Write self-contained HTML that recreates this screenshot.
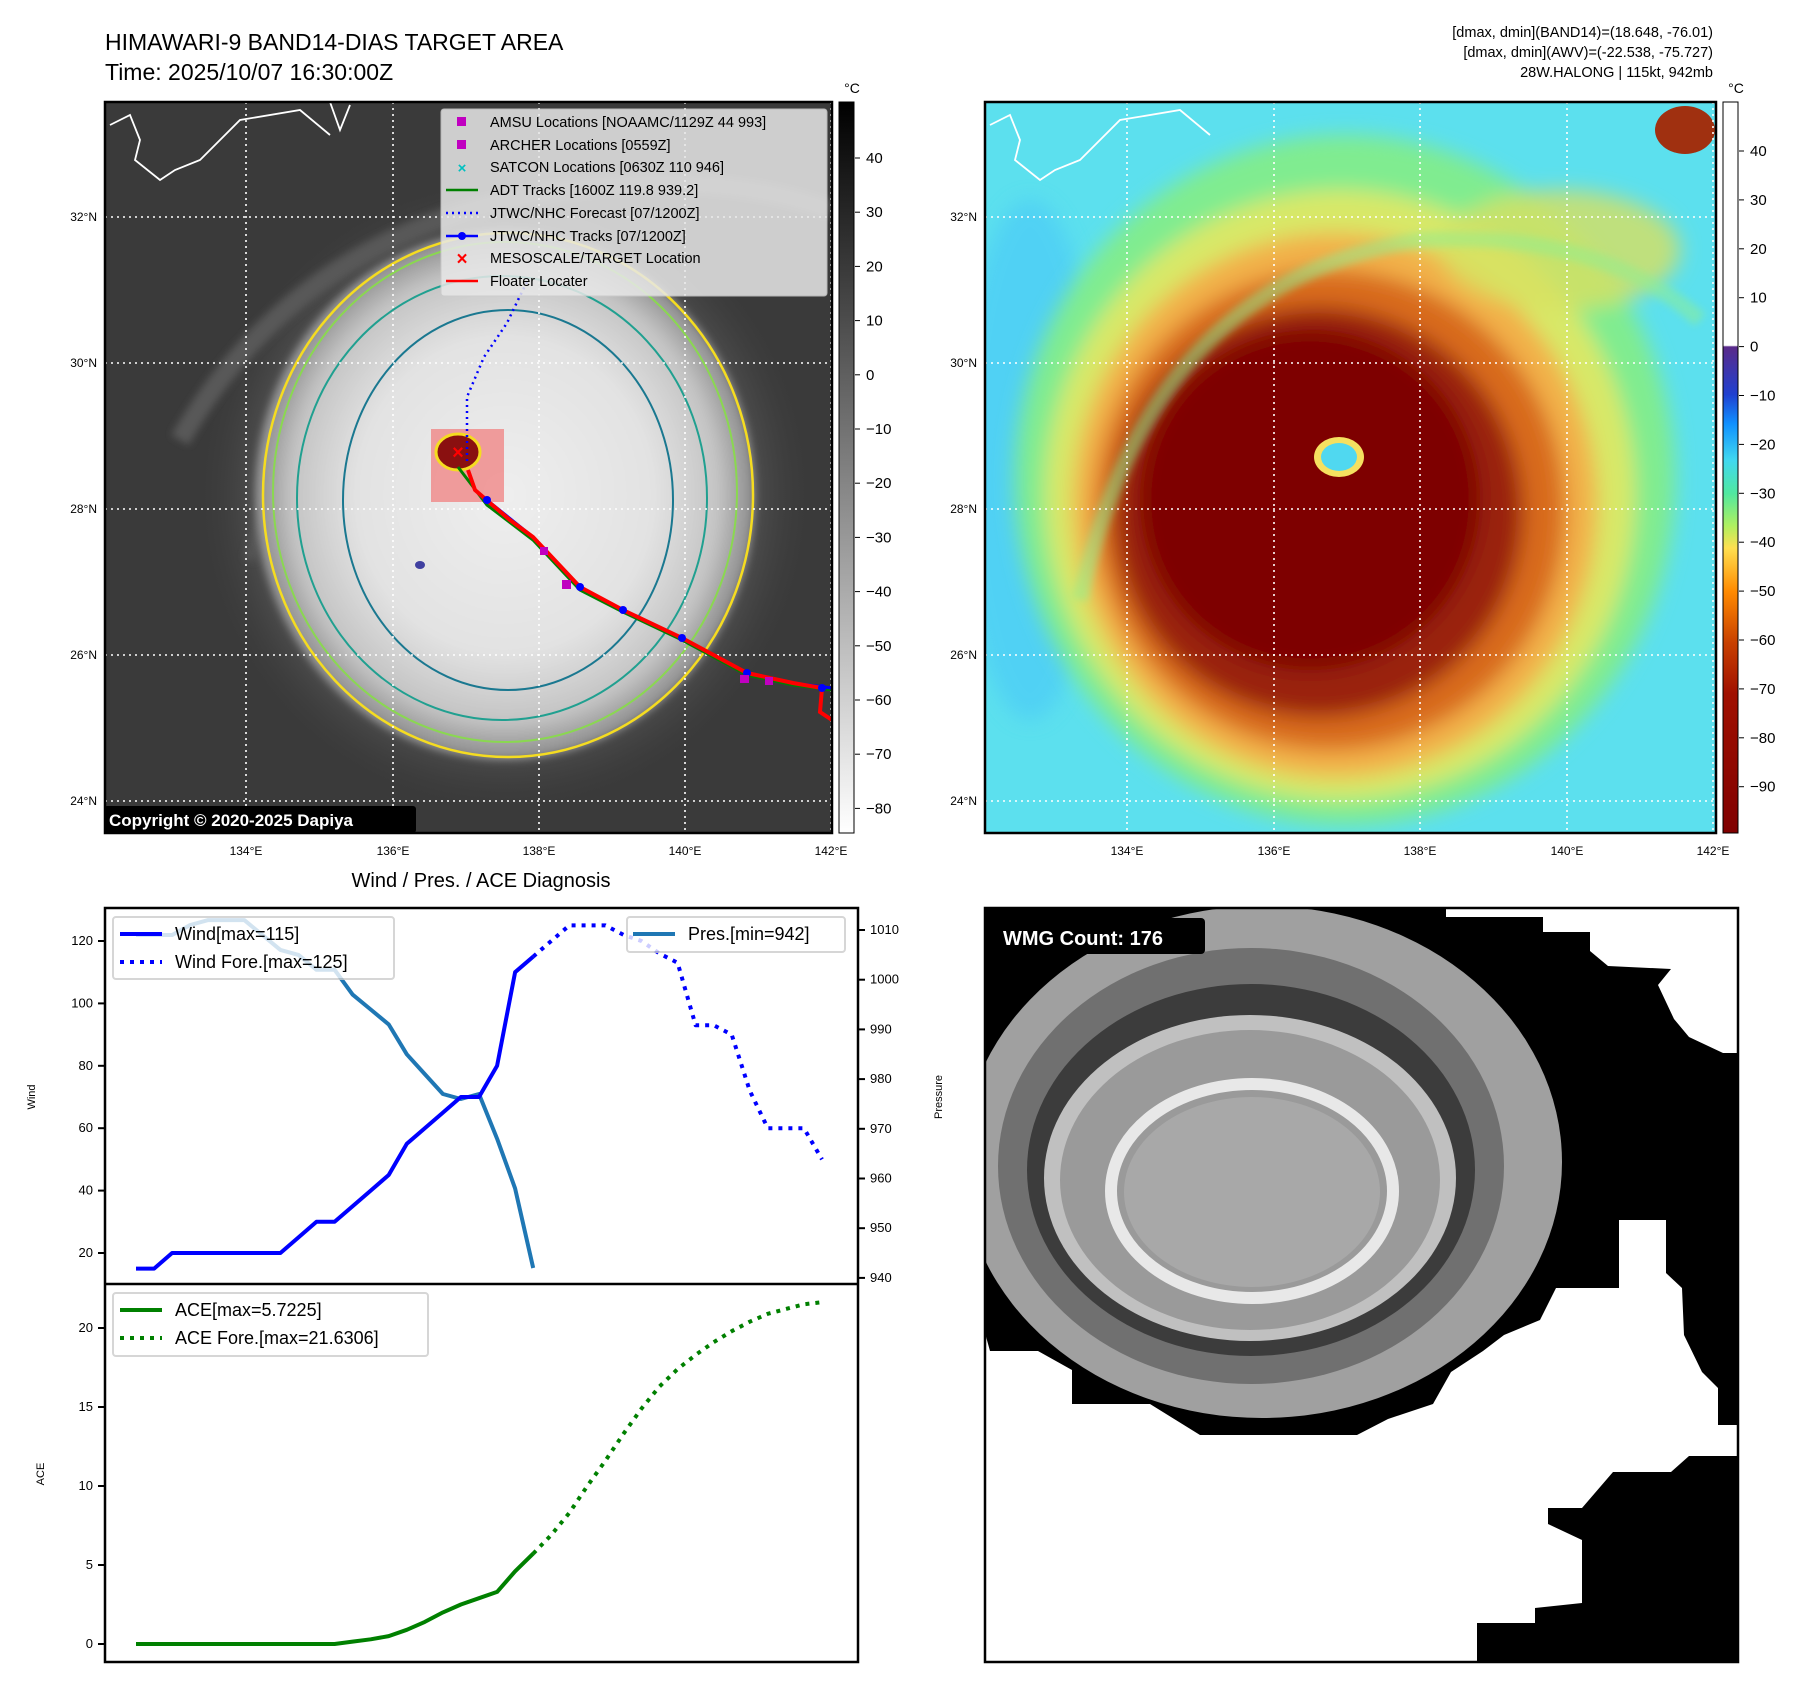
<!DOCTYPE html>
<html><head><meta charset="utf-8"><style>
body{margin:0;background:#fff;}
svg{display:block;font-family:"Liberation Sans","DejaVu Sans",sans-serif;}
</style></head><body>
<svg id="root" width="1797" height="1690" viewBox="0 0 1797 1690" xmlns="http://www.w3.org/2000/svg">
<defs>
<radialGradient id="cloud1" cx="0.5" cy="0.5" r="0.5">
<stop offset="0" stop-color="#eeeeee"/><stop offset="0.6" stop-color="#e2e2e2"/><stop offset="0.85" stop-color="#c4c4c4"/><stop offset="1" stop-color="#8a8a8a"/></radialGradient>
<radialGradient id="halo1" cx="0.5" cy="0.5" r="0.5">
<stop offset="0" stop-color="#8a8a8a"/><stop offset="0.75" stop-color="#5a5a5a"/><stop offset="1" stop-color="#3a3a3a" stop-opacity="0"/></radialGradient>
<filter id="blur6" x="-20%" y="-20%" width="140%" height="140%"><feGaussianBlur stdDeviation="10"/></filter>
<filter id="blur3"><feGaussianBlur stdDeviation="4"/></filter>
<linearGradient id="cb1" x1="0" y1="0" x2="0" y2="1"><stop offset="0" stop-color="#000"/><stop offset="1" stop-color="#fff"/></linearGradient>
<linearGradient id="cb2" x1="0" y1="0" x2="0" y2="1">
<stop offset="0" stop-color="#ffffff"/><stop offset="0.333" stop-color="#ffffff"/><stop offset="0.335" stop-color="#5a2a8a"/><stop offset="0.40" stop-color="#2040d0"/><stop offset="0.44" stop-color="#1090ff"/><stop offset="0.49" stop-color="#40d8f0"/><stop offset="0.535" stop-color="#50e8a0"/><stop offset="0.58" stop-color="#b0f060"/><stop offset="0.61" stop-color="#ffe050"/><stop offset="0.67" stop-color="#ff8a00"/><stop offset="0.74" stop-color="#c84000"/><stop offset="0.81" stop-color="#a01000"/><stop offset="1" stop-color="#800000"/></linearGradient>
<clipPath id="clip1"><rect x="105" y="102" width="727" height="731"/></clipPath>
<clipPath id="clip2"><rect x="985" y="102" width="731" height="731"/></clipPath>
<clipPath id="clip3"><rect x="985" y="908" width="753" height="754"/></clipPath>
</defs>

<text x="105" y="50" font-size="23">HIMAWARI-9 BAND14-DIAS TARGET AREA</text>
<text x="105" y="80" font-size="23">Time: 2025/10/07 16:30:00Z</text>
<g font-size="14.5" text-anchor="end">
<text x="1713" y="37">[dmax, dmin](BAND14)=(18.648, -76.01)</text>
<text x="1713" y="57">[dmax, dmin](AWV)=(-22.538, -75.727)</text>
<text x="1713" y="77">28W.HALONG | 115kt, 942mb</text>
</g>

<!-- MAP 1 -->
<g clip-path="url(#clip1)">
<rect x="105" y="102" width="727" height="731" fill="#3a3a3a"/>
<ellipse cx="505" cy="495" rx="310" ry="320" fill="url(#halo1)"/>
<path d="M180,440 Q300,230 560,190 Q720,170 830,210" stroke="#585858" stroke-width="20" fill="none" filter="url(#blur3)"/>
<path d="M250,560 Q310,320 560,255" stroke="#555" stroke-width="12" fill="none" filter="url(#blur3)"/>
<ellipse cx="505" cy="495" rx="250" ry="265" fill="url(#cloud1)" filter="url(#blur3)"/>
<ellipse cx="508" cy="495" rx="245" ry="262" fill="none" stroke="#f5dc20" stroke-width="2.5"/>
<ellipse cx="505" cy="492" rx="232" ry="250" fill="none" stroke="#8ad850" stroke-width="2"/>
<ellipse cx="502" cy="498" rx="205" ry="222" fill="none" stroke="#20a090" stroke-width="2"/>
<ellipse cx="508" cy="500" rx="165" ry="190" fill="none" stroke="#1a7890" stroke-width="2"/>
<ellipse cx="420" cy="565" rx="5" ry="4" fill="#4040a0"/>
<path d="M110,125 L130,115 L140,140 L135,160 L160,180 L175,170 L200,160 L240,120 L300,110 L330,135" stroke="#fff" stroke-width="1.8" fill="none"/>
<path d="M330,102 L340,130 L350,105" stroke="#fff" stroke-width="1.8" fill="none"/>
<g stroke="#fff" stroke-width="1.6" stroke-dasharray="2,4">
<line x1="246" y1="102" x2="246" y2="833"/><line x1="393" y1="102" x2="393" y2="833"/><line x1="539" y1="102" x2="539" y2="833"/><line x1="685" y1="102" x2="685" y2="833"/><line x1="831" y1="102" x2="831" y2="833"/>
<line x1="105" y1="217" x2="832" y2="217"/><line x1="105" y1="363" x2="832" y2="363"/><line x1="105" y1="509" x2="832" y2="509"/><line x1="105" y1="655" x2="832" y2="655"/><line x1="105" y1="801" x2="832" y2="801"/>
</g>
<rect x="431" y="429" width="73" height="73" fill="#f08080" opacity="0.75"/>
<ellipse cx="458" cy="452" rx="22" ry="18" fill="#8a1010" stroke="#f5dc20" stroke-width="3"/>
<polyline points="467,461 467,397 484,357 507,323 518,300 528,280" fill="none" stroke="#0000ff" stroke-width="2.5" stroke-dasharray="2,4"/>
<polyline points="458,467 487,505 533,540 580,590 623,612 682,640 747,675 793,685 832,690" fill="none" stroke="#008000" stroke-width="3"/>
<polyline points="487,500 533,537 580,587 623,610 682,638 747,673 793,683 832,688" fill="none" stroke="#0000ff" stroke-width="3"/>
<polyline points="468,470 475,490 490,503 510,520 533,537 580,587 623,610 682,638 747,673 793,683 822,688 820,712 832,720" fill="none" stroke="#ff0000" stroke-width="4"/>
<g fill="#0000ff"><circle cx="487" cy="500" r="4"/><circle cx="580" cy="587" r="4"/><circle cx="623" cy="610" r="4"/><circle cx="682" cy="638" r="4"/><circle cx="747" cy="673" r="4"/><circle cx="822" cy="688" r="4"/></g>
<g fill="#c000c0"><rect x="562" y="580" width="9" height="9"/><rect x="540" y="547" width="8" height="8"/><rect x="740" y="675" width="9" height="8"/><rect x="765" y="677" width="8" height="8"/></g>
<text x="458" y="459" fill="#ff0000" font-size="20" font-weight="bold" text-anchor="middle">×</text>
<rect x="104" y="806" width="312" height="27" fill="#000" rx="3"/>
<text x="109" y="826" fill="#fff" font-size="17" font-weight="bold">Copyright © 2020-2025 Dapiya</text>
</g>
<rect x="105" y="102" width="727" height="731" fill="none" stroke="#000" stroke-width="2.5"/>

<g>
<rect x="441" y="109" width="386" height="187" fill="#e8e8e8" opacity="0.85" stroke="#ccc" rx="3"/>
<g font-size="14.5">
<rect x="457" y="117" width="9" height="9" fill="#c000c0"/><text x="490" y="127">AMSU Locations [NOAAMC/1129Z 44 993]</text>
<rect x="457" y="140" width="9" height="9" fill="#c000c0"/><text x="490" y="150">ARCHER Locations [0559Z]</text>
<text x="462" y="173" fill="#00c0c0" font-size="15" text-anchor="middle" font-weight="bold">×</text><text x="490" y="172">SATCON Locations [0630Z 110 946]</text>
<line x1="446" y1="190" x2="478" y2="190" stroke="#008000" stroke-width="2.5"/><text x="490" y="195">ADT Tracks [1600Z 119.8 939.2]</text>
<line x1="446" y1="213" x2="478" y2="213" stroke="#0000ff" stroke-width="2.5" stroke-dasharray="2,4"/><text x="490" y="218">JTWC/NHC Forecast [07/1200Z]</text>
<line x1="446" y1="236" x2="478" y2="236" stroke="#0000ff" stroke-width="2.5"/><circle cx="462" cy="236" r="4" fill="#0000ff"/><text x="490" y="241">JTWC/NHC Tracks [07/1200Z]</text>
<text x="462" y="265" fill="#ff0000" font-size="19" text-anchor="middle" font-weight="bold">×</text><text x="490" y="263">MESOSCALE/TARGET Location</text>
<line x1="446" y1="281" x2="478" y2="281" stroke="#ff0000" stroke-width="2.5"/><text x="490" y="286">Floater Locater</text>
</g></g>

<g font-size="12">
<g text-anchor="middle"><text x="246" y="855">134°E</text><text x="393" y="855">136°E</text><text x="539" y="855">138°E</text><text x="685" y="855">140°E</text><text x="831" y="855">142°E</text></g>
<g text-anchor="end"><text x="97" y="221">32°N</text><text x="97" y="367">30°N</text><text x="97" y="513">28°N</text><text x="97" y="659">26°N</text><text x="97" y="805">24°N</text></g>
</g>
<g>
<rect x="839" y="102" width="15" height="731" fill="url(#cb1)" stroke="#000"/>
<text x="852" y="93" font-size="14" text-anchor="middle">°C</text>
<g id="cb1ticks" font-size="15"></g>
</g>

<!-- MAP 2 -->
<g clip-path="url(#clip2)">
<rect x="985" y="102" width="731" height="731" fill="#5ce0ee"/>
<ellipse cx="1030" cy="460" rx="70" ry="260" fill="#48c8f8" opacity="0.6" filter="url(#blur6)"/>
<g filter="url(#blur6)">
<ellipse cx="1345" cy="480" rx="330" ry="345" fill="#80ec90"/>
<ellipse cx="1340" cy="495" rx="295" ry="305" fill="#d8e868"/>
<ellipse cx="1335" cy="505" rx="262" ry="272" fill="#f2b048"/>
<ellipse cx="1330" cy="510" rx="235" ry="240" fill="#d86a1c"/>
<ellipse cx="1318" cy="512" rx="205" ry="205" fill="#9a2008"/>
<ellipse cx="1310" cy="500" rx="170" ry="170" fill="#7e0000"/>
<ellipse cx="1560" cy="250" rx="120" ry="60" fill="#d8e060" opacity="0.8"/>
</g>
<path d="M1080,600 Q1150,280 1420,240 Q1600,230 1700,320" stroke="#90ee90" stroke-width="16" fill="none" opacity="0.5" filter="url(#blur3)"/>
<ellipse cx="1339" cy="457" rx="25" ry="20" fill="#f5e060"/>
<ellipse cx="1339" cy="457" rx="18" ry="14" fill="#50d8f0"/>
<ellipse cx="1685" cy="130" rx="30" ry="24" fill="#a03010"/>
<path d="M990,125 L1010,115 L1020,140 L1015,160 L1040,180 L1055,170 L1080,160 L1120,120 L1180,110 L1210,135" stroke="#fff" stroke-width="1.8" fill="none"/>
<g stroke="#fff" stroke-width="1.6" stroke-dasharray="2,4">
<line x1="1127" y1="102" x2="1127" y2="833"/><line x1="1274" y1="102" x2="1274" y2="833"/><line x1="1420" y1="102" x2="1420" y2="833"/><line x1="1567" y1="102" x2="1567" y2="833"/><line x1="1713" y1="102" x2="1713" y2="833"/>
<line x1="985" y1="217" x2="1716" y2="217"/><line x1="985" y1="363" x2="1716" y2="363"/><line x1="985" y1="509" x2="1716" y2="509"/><line x1="985" y1="655" x2="1716" y2="655"/><line x1="985" y1="801" x2="1716" y2="801"/>
</g></g>
<rect x="985" y="102" width="731" height="731" fill="none" stroke="#000" stroke-width="2.5"/>
<g font-size="12">
<g text-anchor="middle"><text x="1127" y="855">134°E</text><text x="1274" y="855">136°E</text><text x="1420" y="855">138°E</text><text x="1567" y="855">140°E</text><text x="1713" y="855">142°E</text></g>
<g text-anchor="end"><text x="977" y="221">32°N</text><text x="977" y="367">30°N</text><text x="977" y="513">28°N</text><text x="977" y="659">26°N</text><text x="977" y="805">24°N</text></g>
</g>
<g>
<rect x="1723" y="102" width="15" height="731" fill="url(#cb2)" stroke="#000"/>
<text x="1736" y="93" font-size="14" text-anchor="middle">°C</text>
<g id="cb2ticks" font-size="15"></g>
</g>

<!-- WMG panel -->
<g clip-path="url(#clip3)">
<rect x="985" y="908" width="753" height="754" fill="#000"/>
<polygon fill="#fff" points="1446,904 1738,904 1738,1053 1723,1053 1689,1037 1674,1019 1658,985 1671,969 1608,966 1590,951 1590,932 1543,932 1543,917 1446,917"/>
<polygon fill="#fff" points="980,1315 990,1351 1038,1351 1072,1370 1072,1404 1150,1404 1200,1435 1357,1435 1388,1419 1433,1404 1451,1372 1483,1351 1504,1335 1540,1320 1556,1288 1619,1288 1619,1220 1666,1220 1666,1273 1682,1288 1684,1335 1702,1372 1718,1388 1718,1425 1738,1425 1738,1456 1689,1456 1671,1472 1613,1472 1582,1508 1548,1508 1548,1524 1582,1540 1582,1603 1535,1608 1535,1623 1477,1623 1477,1665 980,1665"/>
<ellipse cx="1262" cy="1162" rx="300" ry="256" fill="#a0a0a0"/>
<ellipse cx="1251" cy="1166" rx="253" ry="218" fill="#707070"/>
<ellipse cx="1251" cy="1170" rx="224" ry="186" fill="#3c3c3c"/>
<ellipse cx="1250" cy="1178" rx="206" ry="163" fill="#c0c0c0"/>
<ellipse cx="1250" cy="1180" rx="190" ry="150" fill="#9a9a9a"/>
<ellipse cx="1252" cy="1191" rx="141" ry="107" fill="none" stroke="#e8e8e8" stroke-width="12"/>
<ellipse cx="1252" cy="1192" rx="128" ry="95" fill="#a8a8a8"/>
<rect x="995" y="918" width="210" height="36" fill="#000" rx="4"/>
<text x="1003" y="945" fill="#fff" font-size="20" font-weight="bold">WMG Count: 176</text>
</g>
<rect x="985" y="908" width="753" height="754" fill="none" stroke="#000" stroke-width="2.5"/>

<!-- Diagnosis chart -->
<text x="481" y="887" font-size="20" text-anchor="middle">Wind / Pres. / ACE Diagnosis</text>
<g id="chart"></g>
<rect x="105" y="908" width="753" height="754" fill="none" stroke="#000" stroke-width="2.5"/>
<line x1="105" y1="1284" x2="858" y2="1284" stroke="#000" stroke-width="2.5"/>
<text transform="translate(35,1097) rotate(-90)" font-size="11" text-anchor="middle">Wind</text>
<text transform="translate(942,1097) rotate(-90)" font-size="11" text-anchor="middle">Pressure</text>
<text transform="translate(44,1474) rotate(-90)" font-size="11" text-anchor="middle">ACE</text>

<g>
<rect x="113" y="917" width="281" height="62" fill="#fff" opacity="0.8" stroke="#ccc" stroke-width="2" rx="3"/>
<line x1="120" y1="934" x2="162" y2="934" stroke="#0000ff" stroke-width="4"/>
<text x="175" y="940" font-size="18">Wind[max=115]</text>
<line x1="120" y1="962" x2="162" y2="962" stroke="#0000ff" stroke-width="4" stroke-dasharray="4,6"/>
<text x="175" y="968" font-size="18">Wind Fore.[max=125]</text>
</g>
<g>
<rect x="627" y="917" width="218" height="35" fill="#fff" opacity="0.8" stroke="#ccc" stroke-width="2" rx="3"/>
<line x1="633" y1="934" x2="675" y2="934" stroke="#1f77b4" stroke-width="4"/>
<text x="688" y="940" font-size="18">Pres.[min=942]</text>
</g>
<g>
<rect x="113" y="1293" width="315" height="63" fill="#fff" opacity="0.8" stroke="#ccc" stroke-width="2" rx="3"/>
<line x1="120" y1="1310" x2="162" y2="1310" stroke="#008000" stroke-width="4"/>
<text x="175" y="1316" font-size="18">ACE[max=5.7225]</text>
<line x1="120" y1="1338" x2="162" y2="1338" stroke="#008000" stroke-width="4" stroke-dasharray="4,6"/>
<text x="175" y="1344" font-size="18">ACE Fore.[max=21.6306]</text>
</g>
</svg>
<script>
const windHist=[15,15,20,20,20,20,20,20,20,25,30,30,35,40,45,55,60,65,70,70,80,110,115];
const windFore=[115,120,125,125,125,122,120,116,113,93,93,90,72,60,60,60,50];
const presHist=[1009,1009,1009,1011,1012,1012,1012,1009,1006,1005,1002,1002,997,994,991,985,981,977,976,977,968,958,942];
const aceHist=[0,0,0,0,0,0,0,0,0,0,0,0,0.15,0.3,0.5,0.9,1.4,2.0,2.5,2.9,3.3,4.6,5.72];
const aceFore=[5.72,6.9,8.3,10.0,11.6,13.3,14.9,16.3,17.4,18.3,19.1,19.8,20.4,20.9,21.2,21.5,21.63];
const windTicks=[20,40,60,80,100,120];
const presTicks=[940,950,960,970,980,990,1000,1010];
const aceTicks=[0,5,10,15,20];
const cb1Ticks=[40,30,20,10,0,-10,-20,-30,-40,-50,-60,-70,-80];
const cb2Ticks=[40,30,20,10,0,-10,-20,-30,-40,-50,-60,-70,-80,-90];

const NS='http://www.w3.org/2000/svg';
const total=windHist.length+windFore.length-2;
const xS=i=>136+i*(822-136)/total;
const yW=v=>941+(120-v)*3.12;
const yP=v=>930+(1010-v)*4.97;
const yA=v=>1644-v*15.8;
const chart=document.getElementById('chart');
function mk(tag,attrs,parent){const e=document.createElementNS(NS,tag);for(const k in attrs)e.setAttribute(k,attrs[k]);(parent||chart).appendChild(e);return e;}
function line(vals,off,ys,color,dash,name){
  const pts=vals.map((v,i)=>xS(i+off).toFixed(1)+','+ys(v).toFixed(1)).join(' ');
  const p=mk('polyline',{points:pts,fill:'none',stroke:color,'stroke-width':4,'stroke-linejoin':'round'});
  if(dash)p.setAttribute('stroke-dasharray',dash);
  
  
}
line(presHist,0,yP,'#1f77b4',null,'pressure-line');
line(windHist,0,yW,'#0000ff',null,'wind-line');
line(windFore,windHist.length-1,yW,'#0000ff','4,6','wind-forecast-line');
line(aceHist,0,yA,'#008000',null,'ace-line');
line(aceFore,aceHist.length-1,yA,'#008000','4,6','ace-forecast-line');
function ticks(arr,ys,x0,dir,anchor,name){
  arr.forEach(v=>{
    const y=ys(v);
    const t=mk('line',{x1:x0,y1:y,x2:x0+dir*7,y2:y,stroke:'#000','stroke-width':2});
    
    
    const tx=mk('text',{x:x0+dir*12,y:y+4,'font-size':13,'text-anchor':anchor});
    tx.textContent=v;
    
    
  });
}
ticks(windTicks,yW,105,-1,'end','wind');
ticks(presTicks,yP,858,1,'start','pressure');
ticks(aceTicks,yA,105,-1,'end','ace');
function cbt(arr,id,x,y40,step){
  const g=document.getElementById(id);
  arr.forEach(v=>{
    const y=y40+(40-v)/10*step;
    mk('line',{x1:x-5,y1:y,x2:x,y2:y,stroke:'#000'},g);
    const t=mk('text',{x:x+6,y:y+5},g);
    t.textContent=v<0?'\u2212'+(-v):v;
    
    
  });
}
cbt(cb1Ticks,'cb1ticks',860,158,54.2);
cbt(cb2Ticks,'cb2ticks',1744,151,48.9);
</script>
</body></html>
